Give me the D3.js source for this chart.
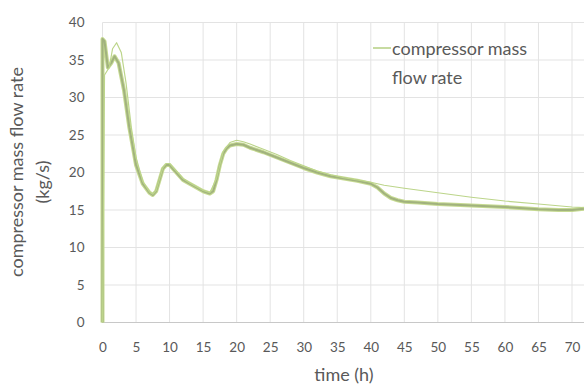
<!DOCTYPE html>
<html>
<head>
<meta charset="utf-8">
<script src="https://cdn.jsdelivr.net/npm/d3@7"></script>
<style>
  html, body { margin: 0; padding: 0; background: #fff; }
  svg { display: block; font-family: Lato, "Open Sans", sans-serif; }
</style>
</head>
<body>
<svg id="chart" width="584" height="387"></svg>
<script>
// Time axis (h) and the two flow-rate traces (kg/s)
const mainTime = [0, 0, 0.3, 0.8, 1.3, 1.8, 2.4, 3.2, 4, 5, 6, 7, 7.5, 8, 8.5, 9, 9.5, 10, 11, 12, 13, 14, 15, 16, 16.5, 17, 17.5, 18, 18.5, 19, 20, 21, 22, 24, 26, 28, 30, 32, 34, 36, 38, 40, 41, 42, 43, 44, 45, 47, 50, 55, 60, 65, 68, 70, 72];
const mainFlow = [0, 37.8, 37.5, 34, 34.6, 35.5, 34.6, 31, 26, 21, 18.5, 17.3, 17, 17.5, 19, 20.5, 21, 21, 20, 19, 18.5, 18, 17.5, 17.2, 17.5, 19, 21, 22.5, 23.2, 23.6, 23.8, 23.7, 23.3, 22.7, 22, 21.3, 20.6, 20, 19.5, 19.2, 18.9, 18.5, 18, 17.2, 16.6, 16.3, 16.1, 16, 15.8, 15.6, 15.4, 15.1, 15, 15, 15.2];

const thinTime = [0, 0.3, 1, 1.5, 2.1, 2.8, 3.5, 4.3, 5, 6, 7, 7.5, 8, 9, 9.5, 10, 11, 12, 13, 14, 15, 16, 17, 18, 19, 20, 21, 22, 24, 26, 28, 30, 32, 34, 36, 38, 40, 42, 45, 50, 55, 60, 65, 70, 72];
const thinFlow = [0, 33, 34, 36.5, 37.3, 36, 32, 26, 22, 18.8, 17.4, 17.1, 17.6, 20.6, 21.2, 21.2, 20.2, 19.2, 18.6, 18.1, 17.6, 17.3, 19.2, 22.8, 24, 24.3, 24.1, 23.8, 23.1, 22.4, 21.6, 20.9, 20.2, 19.7, 19.3, 19, 18.7, 18.3, 17.9, 17.3, 16.7, 16.2, 15.8, 15.4, 15.3];

const xTicks = [0, 5, 10, 15, 20, 25, 30, 35, 40, 45, 50, 55, 60, 65, 70];
const yTicks = [0, 5, 10, 15, 20, 25, 30, 35, 40];
const legendLabel = ["compressor mass", "flow rate"];

const svg = d3.select("#chart");
const x = d3.scaleLinear().domain([0, 70]).range([102.5, 572]);
const y = d3.scaleLinear().domain([0, 40]).range([322.5, 22.5]);
const xMax = 72.2;
const textColor = "#595959";

const grid = svg.append("g");
grid.selectAll("line.h").data(yTicks.filter(d => d > 0)).join("line")
  .attr("x1", x(0)).attr("x2", x(xMax))
  .attr("y1", d => y(d)).attr("y2", d => y(d))
  .attr("stroke", "#e3e3e3").attr("stroke-width", 1);
grid.selectAll("line.v").data(xTicks).join("line")
  .attr("x1", d => x(d)).attr("x2", d => x(d))
  .attr("y1", y(0)).attr("y2", y(40))
  .attr("stroke", "#e3e3e3").attr("stroke-width", 1);

// Bottom axis line
svg.append("line")
  .attr("x1", x(0)).attr("x2", x(xMax))
  .attr("y1", y(0)).attr("y2", y(0))
  .attr("stroke", "#c8c8c8").attr("stroke-width", 1);

// Tick labels via D3 axes (tick lines hidden)
const xAxis = svg.append("g").attr("transform", `translate(0,${y(0)})`)
  .call(d3.axisBottom(x).tickValues(xTicks).tickSize(0).tickPadding(20));
const yAxis = svg.append("g").attr("transform", `translate(${x(0) - 18},0)`)
  .call(d3.axisLeft(y).tickValues(yTicks).tickSize(0).tickPadding(0));
[xAxis, yAxis].forEach(a => {
  a.select(".domain").remove();
  a.selectAll("text").attr("fill", textColor).style("font-size", "13.5px")
    .style("font-family", "Lato, sans-serif");
});

const line = d3.line().x(d => x(d[0])).y(d => y(d[1]));
const mainPts = mainTime.map((t, i) => [t, mainFlow[i]]);
const thinPts = thinTime.map((t, i) => [t, thinFlow[i]]);

// Thick trace: light halo with darker olive core
svg.append("path").datum(mainPts).attr("d", line)
  .attr("fill", "none").attr("stroke", "#c6da92").attr("stroke-width", 4)
  .attr("stroke-linejoin", "round");
svg.append("path").datum(mainPts).attr("d", line)
  .attr("fill", "none").attr("stroke", "#a1b27e").attr("stroke-width", 2)
  .attr("stroke-linejoin", "round");
// Thin trace
svg.append("path").datum(thinPts).attr("d", line)
  .attr("fill", "none").attr("stroke", "#bcd58a").attr("stroke-width", 1.2)
  .attr("stroke-linejoin", "round");

// Legend
svg.append("line").attr("x1", 373).attr("x2", 391).attr("y1", 48).attr("y2", 48)
  .attr("stroke", "#b5cf82").attr("stroke-width", 1.5);
svg.append("text").attr("x", 392).attr("y", 55).text(legendLabel[0])
  .attr("fill", textColor).style("font-size", "18px");
svg.append("text").attr("x", 392).attr("y", 84).text(legendLabel[1])
  .attr("fill", textColor).style("font-size", "18px");

// Axis titles
svg.append("text").attr("x", 344).attr("y", 381).attr("text-anchor", "middle")
  .text("time (h)").attr("fill", textColor).style("font-size", "18px");
svg.append("text").attr("transform", "translate(23,172) rotate(-90)")
  .attr("text-anchor", "middle").attr("fill", textColor).style("font-size", "18px")
  .text("compressor mass flow rate");
svg.append("text").attr("transform", "translate(49,182) rotate(-90)")
  .attr("text-anchor", "middle").attr("fill", textColor).style("font-size", "18px")
  .text("(kg/s)");
</script>
</body>
</html>
